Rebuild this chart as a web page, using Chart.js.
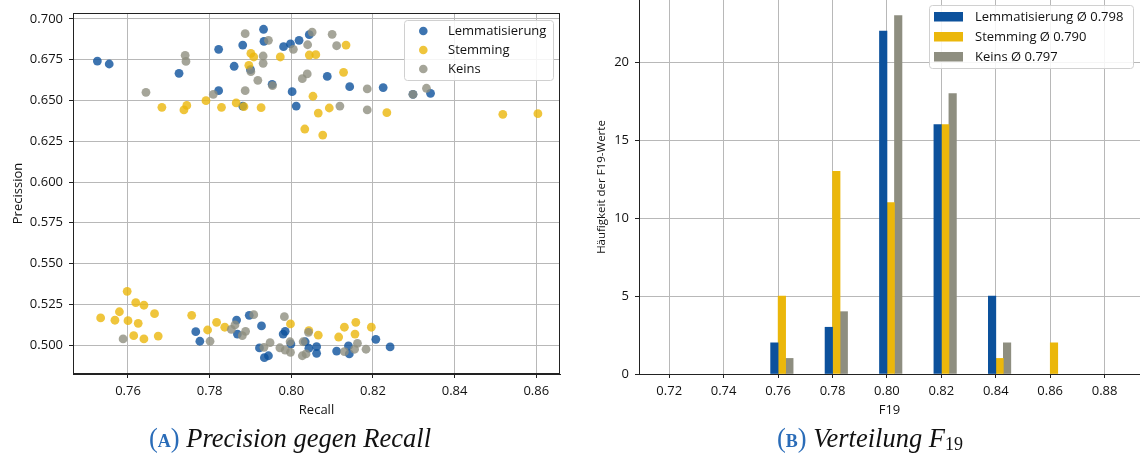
<!DOCTYPE html>
<html>
<head>
<meta charset="utf-8" />
<script src="https://cdn.jsdelivr.net/npm/chart.js@4.4.1/dist/chart.umd.min.js"></script>
<style>
  body{margin:0;background:#fff;width:1140px;height:455px;overflow:hidden;position:relative;font-family:'Open Sans',sans-serif;}
  #scatterChart{position:absolute;left:0;top:0;}
  #histChart{position:absolute;left:575px;top:0;}
  .caption{position:absolute;top:423px;height:30px;line-height:30px;text-align:center;white-space:nowrap;
           font-family:'Liberation Serif',serif;font-style:italic;font-size:26.5px;color:#111;}
  .caption .tag{font-style:normal;color:#2a6cb8;}
  .caption .tag b{font-variant:small-caps;font-weight:bold;font-size:25px;}
  .caption sub{font-size:18px;font-style:normal;vertical-align:-3px;line-height:0;}
  #capA{left:0;width:580px;}
  #capB{left:600px;width:540px;}
</style>
</head>
<body>
<canvas id="scatterChart" width="575" height="425"></canvas>
<canvas id="histChart" width="565" height="425"></canvas>
<div class="caption" id="capA"><span class="tag">(<b>a</b>)</span> Precision gegen Recall</div>
<div class="caption" id="capB"><span class="tag">(<b>b</b>)</span> Verteilung F<sub>19</sub></div>

<script>
// ---- series names / colours ----
const METHODS = ['Lemmatisierung', 'Stemming', 'Keins'];
const MEANS = ['0.798', '0.790', '0.797'];
const BAR_COLORS = ['#0c519c', '#ebb70b', '#8e8e80'];
const DOT_COLORS = ['rgba(12,81,156,0.8)', 'rgba(235,183,11,0.8)', 'rgba(142,142,128,0.8)'];

// ---- scatter: recall / precision per run ----
const lemmaRecall = [0.7525,0.7554,0.7725,0.7822,0.7822,0.7881,0.7860,0.7881,0.7900,0.7932,0.7933,0.7953,0.7981,0.7998,0.8002,0.8012,0.8019,0.8044,0.8088,0.8143,0.8225,0.8298,0.8341,
  0.7766,0.7776,0.7866,0.7868,0.7897,0.7927,0.7922,0.7934,0.7944,0.7980,0.7985,0.7999,0.8034,0.8043,0.8062,0.8062,0.8111,0.8140,0.8142,0.8207,0.8242];
const lemmaPrecision = [0.6742,0.6724,0.6667,0.6560,0.6814,0.6466,0.6710,0.6840,0.6689,0.6937,0.6863,0.6599,0.6830,0.6847,0.6554,0.6466,0.6869,0.6904,0.6648,0.6585,0.6579,0.6538,0.6544,
  0.5082,0.5023,0.5153,0.5067,0.5182,0.5117,0.4982,0.4922,0.4934,0.5067,0.5084,0.5006,0.5020,0.4980,0.4990,0.4949,0.4963,0.4994,0.4945,0.5035,0.4988];

const stemRecall = [0.7683,0.7737,0.7744,0.7791,0.7829,0.7865,0.7884,0.7896,0.7901,0.7908,0.7926,0.7973,0.8044,0.8060,0.8053,0.8066,0.8033,0.8077,0.8134,0.8128,0.8093,0.8234,0.8518,0.8604,
  0.7598,0.7619,0.7639,0.7533,0.7568,0.7579,0.7600,0.7625,0.7665,0.7614,0.7639,0.7674,0.7756,0.7795,0.7817,0.7837,0.7998,0.8043,0.8066,0.8130,0.8158,0.8196,0.8116,0.8156];
const stemPrecision = [0.6458,0.6442,0.6470,0.6499,0.6458,0.6485,0.6462,0.6716,0.6789,0.6767,0.6456,0.6767,0.6779,0.6781,0.6526,0.6423,0.6325,0.6288,0.6840,0.6673,0.6454,0.6425,0.6415,0.6419,
  0.5329,0.5260,0.5244,0.5166,0.5152,0.5204,0.5149,0.5133,0.5192,0.5057,0.5037,0.5055,0.5182,0.5092,0.5139,0.5109,0.5129,0.5088,0.5060,0.5109,0.5139,0.5109,0.5049,0.5067];

const noneRecall = [0.7644,0.7740,0.7742,0.7809,0.7887,0.7887,0.7901,0.7918,0.7931,0.7931,0.7944,0.7954,0.8005,0.8040,0.8051,0.8027,0.8039,0.8100,0.8111,0.8186,0.8298,0.8331,0.8119,0.8186,
  0.7588,0.7801,0.7853,0.7862,0.7880,0.7888,0.7908,0.7948,0.7933,0.7983,0.7972,0.7985,0.7997,0.7998,0.8027,0.8036,0.8029,0.8042,0.8130,0.8162,0.8155,0.8183];
const nonePrecision = [0.6550,0.6777,0.6740,0.6538,0.6560,0.6910,0.6677,0.6624,0.6773,0.6728,0.6869,0.6591,0.6814,0.6842,0.6920,0.6634,0.6663,0.6906,0.6836,0.6571,0.6538,0.6575,0.6466,0.6442,
  0.5037,0.5023,0.5096,0.5123,0.5057,0.5084,0.5186,0.5014,0.4986,0.5174,0.4983,0.4969,0.5020,0.4955,0.4934,0.4945,0.5020,0.5078,0.4959,0.5010,0.4974,0.4974];

const recallTicks = [0.76, 0.78, 0.80, 0.82, 0.84, 0.86];
const precisionTicks = [0.500, 0.525, 0.550, 0.575, 0.600, 0.625, 0.650, 0.675, 0.700];

// ---- histogram of F19 ----
const f19Bins = [0.76, 0.78, 0.80, 0.82, 0.84, 0.86];
const lemmaCounts = [2, 3, 22, 16, 5, 0];
const stemCounts = [5, 13, 11, 16, 1, 2];
const noneCounts = [1, 4, 23, 18, 2, 0];
const f19Ticks = [0.72, 0.74, 0.76, 0.78, 0.80, 0.82, 0.84, 0.86, 0.88];
const countTicks = [0, 5, 10, 15, 20];

Chart.defaults.font.family = "'Open Sans', sans-serif";
Chart.defaults.color = '#111';

const GRID = '#b8b8b8', AXIS = '#222';
const BAR_W = 7.5;             // px per bar inside a bin
const BIN_SHIFT = 0.0014;      // bars start one bar left of the bin tick

const zip = (xs, ys) => xs.map((x, i) => ({ x: x, y: ys[i] }));
const fixedTicks = vals => s => { s.ticks = vals.map(v => ({ value: v })); };
// fixed axis size, and no extra room reserved for end labels
const fitAxis = (prop, size) => s => {
  s[prop] = size;
  s.paddingTop = 0; s.paddingBottom = 0; s.paddingLeft = 0; s.paddingRight = 0;
};

// legend with a rounded frame, drawn in the plot area
function frameLegend(opts) {
  return {
    id: 'frameLegend',
    afterDraw(chart) {
      const c = chart.ctx, o = opts;
      c.save();
      c.beginPath();
      c.roundRect(o.x + 0.5, o.y + 0.5, o.w, o.h, 3);
      c.fillStyle = 'rgba(255,255,255,0.85)';
      c.fill();
      c.strokeStyle = '#d0d0d0';
      c.lineWidth = 1;
      c.stroke();
      c.font = "13px 'Open Sans', sans-serif";
      c.textBaseline = 'middle';
      o.labels.forEach((txt, i) => {
        const y = o.rowY[i];
        if (o.marker === 'dot') {
          c.beginPath();
          c.arc(o.markX, y, 4.3, 0, Math.PI * 2);
          c.fillStyle = DOT_COLORS[i];
          c.fill();
        } else {
          c.fillStyle = BAR_COLORS[i];
          c.fillRect(o.markX, y - 4.7, 29, 9.5);
        }
        c.fillStyle = '#111';
        c.fillText(txt, o.textX, y + 0.5);
      });
      c.restore();
    }
  };
}

// full box around the scatter plot
const boxFrame = {
  id: 'boxFrame',
  afterDatasetsDraw(chart) {
    const a = chart.chartArea, c = chart.ctx;
    c.save();
    c.strokeStyle = AXIS;
    c.lineWidth = 1;
    c.strokeRect(Math.round(a.left) + 0.5, Math.round(a.top) + 0.5, Math.round(a.right - a.left) - 1, Math.round(a.bottom - a.top) - 1);
    c.restore();
  }
};

// ---------- scatter: Precision vs Recall ----------
const recallSets = [lemmaRecall, stemRecall, noneRecall];
const precisionSets = [lemmaPrecision, stemPrecision, nonePrecision];

new Chart(document.getElementById('scatterChart'), {
  type: 'scatter',
  data: {
    datasets: METHODS.map((m, i) => ({
      label: m,
      data: zip(recallSets[i], precisionSets[i]),
      backgroundColor: DOT_COLORS[i],
      borderWidth: 0,
      pointRadius: 4.4,
      order: 2 - i
    }))
  },
  options: {
    responsive: false,
    animation: false,
    events: [],
    layout: { padding: { left: 6, right: 15, top: 13, bottom: 3 } },
    plugins: { legend: { display: false }, tooltip: { enabled: false } },
    scales: {
      x: {
        type: 'linear', min: 0.74653, max: 0.86581,
        afterBuildTicks: fixedTicks(recallTicks),
        afterFit: fitAxis('height', 48),
        ticks: { callback: v => v.toFixed(2), font: { size: 13 }, padding: 5, maxRotation: 0 },
        grid: { color: GRID, lineWidth: 1, tickColor: AXIS, tickLength: 4 },
        border: { color: AXIS, width: 1 },
        title: { display: true, text: 'Recall', font: { size: 13 } }
      },
      y: {
        type: 'linear', min: 0.48221, max: 0.70368,
        afterBuildTicks: fixedTicks(precisionTicks),
        afterFit: fitAxis('width', 67),
        ticks: { callback: v => v.toFixed(3), font: { size: 13 }, padding: 6 },
        grid: { color: GRID, lineWidth: 1, tickColor: AXIS, tickLength: 4 },
        border: { color: AXIS, width: 1 },
        title: { display: true, text: 'Precission', font: { size: 13 } }
      }
    }
  },
  plugins: [boxFrame, frameLegend({
    x: 404, y: 20, w: 149, h: 60, marker: 'dot', markX: 423.3, textX: 448,
    rowY: [31, 50, 69], labels: METHODS
  })]
});

// ---------- histogram: F19 distribution ----------
const countSets = [lemmaCounts, stemCounts, noneCounts];

new Chart(document.getElementById('histChart'), {
  type: 'bar',
  data: {
    datasets: METHODS.map((m, i) => ({
      label: m + ' Ø ' + MEANS[i],
      // empty bins keep their slot but draw nothing
      data: f19Bins.map((b, k) => ({ x: b + BIN_SHIFT, y: countSets[i][k] || null })),
      backgroundColor: BAR_COLORS[i],
      borderWidth: 0,
      barThickness: BAR_W
    }))
  },
  options: {
    responsive: false,
    animation: false,
    events: [],
    layout: { padding: { left: 16, right: 0, top: 0, bottom: 3 } },
    plugins: { legend: { display: false }, tooltip: { enabled: false } },
    scales: {
      x: {
        type: 'linear', min: 0.7089, max: 0.8930, offset: false,
        afterBuildTicks: fixedTicks(f19Ticks),
        afterFit: fitAxis('height', 48),
        ticks: { callback: v => v.toFixed(2), font: { size: 13 }, padding: 5, maxRotation: 0 },
        grid: { color: GRID, lineWidth: 1, tickColor: AXIS, tickLength: 4, offset: false },
        border: { color: AXIS, width: 1 },
        title: { display: true, text: 'F19', font: { size: 13 } }
      },
      y: {
        type: 'linear', min: 0, max: 24,
        afterBuildTicks: fixedTicks(countTicks),
        afterFit: fitAxis('width', 48),
        ticks: { font: { size: 13 }, padding: 6 },
        grid: { color: GRID, lineWidth: 1, tickColor: AXIS, tickLength: 4 },
        border: { color: AXIS, width: 1 },
        title: { display: true, text: 'Häufigkeit der F19-Werte', font: { size: 11.5 } }
      }
    }
  },
  plugins: [frameLegend({
    x: 354, y: 5, w: 204, h: 63, marker: 'patch', markX: 359, textX: 400,
    rowY: [16.7, 36.7, 56.7], labels: METHODS.map((m, i) => m + ' Ø ' + MEANS[i])
  })]
});
</script>
</body>
</html>
